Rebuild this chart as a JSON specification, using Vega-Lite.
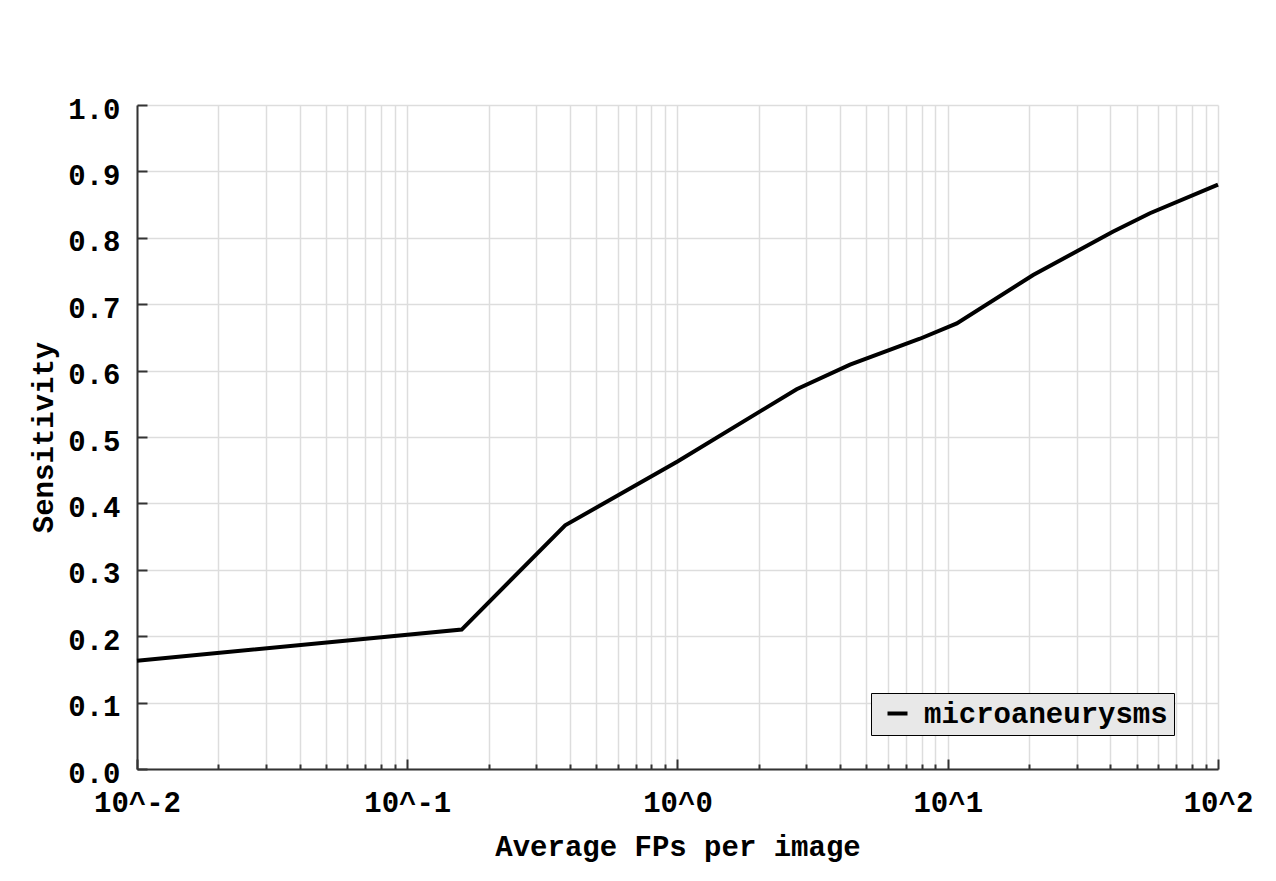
{
  "$schema": "https://vega.github.io/schema/vega-lite/v6.json",
  "autosize": {"type": "none"},
  "padding": {"left": 137, "top": 105, "right": 58, "bottom": 112},
  "width": 1081,
  "height": 664,
  "background": "white",
  "data": {"values": [
    {"fp": 0.01, "sens": 0.163, "series": "microaneurysms"},
    {"fp": 0.159, "sens": 0.210, "series": "microaneurysms"},
    {"fp": 0.384, "sens": 0.367, "series": "microaneurysms"},
    {"fp": 1.0, "sens": 0.463, "series": "microaneurysms"},
    {"fp": 2.76, "sens": 0.572, "series": "microaneurysms"},
    {"fp": 4.35, "sens": 0.609, "series": "microaneurysms"},
    {"fp": 7.89, "sens": 0.648, "series": "microaneurysms"},
    {"fp": 10.8, "sens": 0.671, "series": "microaneurysms"},
    {"fp": 20.7, "sens": 0.744, "series": "microaneurysms"},
    {"fp": 40.8, "sens": 0.809, "series": "microaneurysms"},
    {"fp": 56, "sens": 0.837, "series": "microaneurysms"},
    {"fp": 100, "sens": 0.880, "series": "microaneurysms"}
  ]},
  "mark": {"type": "line", "strokeWidth": 4, "strokeJoin": "miter", "clip": false},
  "encoding": {
    "x": {
      "field": "fp", "type": "quantitative",
      "scale": {"type": "log", "domain": [0.01, 100], "nice": false},
      "axis": {
        "title": "Average FPs per image",
        "values": [0.01,0.02,0.03,0.04,0.05,0.06,0.07,0.08,0.09,0.1,0.2,0.3,0.4,0.5,0.6,0.7,0.8,0.9,1,2,3,4,5,6,7,8,9,10,20,30,40,50,60,70,80,90,100],
        "labelExpr": "datum.value == 0.01 ? '10^-2' : datum.value == 0.1 ? '10^-1' : datum.value == 1 ? '10^0' : datum.value == 10 ? '10^1' : datum.value == 100 ? '10^2' : ''",
        "labelOverlap": false,
        "labelFlush": false,
        "tickSize": {"condition": {"test": "datum.value == 0.01 || datum.value == 0.1 || datum.value == 1 || datum.value == 10 || datum.value == 100", "value": -10}, "value": -5},
        "labelPadding": 29,
        "titlePadding": 10
      }
    },
    "y": {
      "field": "sens", "type": "quantitative",
      "scale": {"domain": [0, 1], "nice": false, "zero": true},
      "axis": {
        "title": "Sensitivity",
        "values": [0,0.1,0.2,0.3,0.4,0.5,0.6,0.7,0.8,0.9,1.0],
        "format": ".1f",
        "tickSize": -10,
        "labelPadding": 27,
        "labelOffset": 4,
        "titlePadding": 9
      }
    },
    "color": {
      "field": "series", "type": "nominal",
      "scale": {"range": ["black"]},
      "legend": {
        "title": null,
        "orient": "none",
        "legendX": 734,
        "legendY": 588,
        "fillColor": "#e8e8e8",
        "strokeColor": "black",
        "padding": 6,
        "symbolType": "stroke",
        "symbolSize": 400,
        "symbolStrokeWidth": 4,
        "symbolOffset": 6,
        "labelOffset": 12,
        "labelLimit": 0,
        "labelExpr": "datum.label + '\u00a0'"
      }
    }
  },
  "config": {
    "view": {"stroke": null},
    "font": "Liberation Mono",
    "axis": {
      "domainColor": "#333333",
      "domainWidth": 2,
      "tickColor": "#333333",
      "tickWidth": 2,
      "gridColor": "#dddddd",
      "gridWidth": 1.5,
      "grid": true,
      "labelFont": "Liberation Mono",
      "labelFontSize": 29,
      "labelFontWeight": "bold",
      "labelColor": "black",
      "titleFont": "Liberation Mono",
      "titleFontSize": 29,
      "titleFontWeight": "bold",
      "titleColor": "black"
    },
    "legend": {
      "labelFont": "Liberation Mono",
      "labelFontSize": 29,
      "labelFontWeight": "bold",
      "labelColor": "black"
    }
  }
}
